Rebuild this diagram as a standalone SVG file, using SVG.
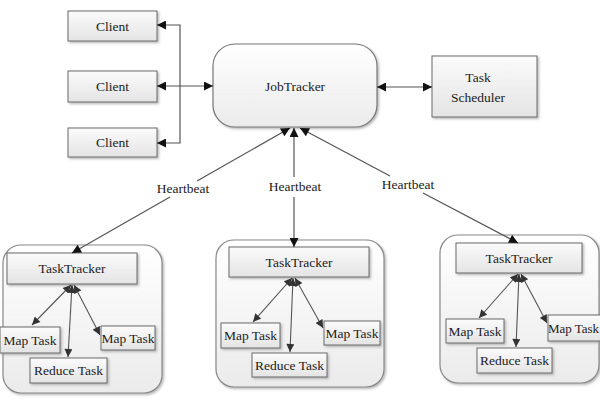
<svg xmlns="http://www.w3.org/2000/svg" width="600" height="400" viewBox="0 0 600 400">
<style>
text{font-family:"Liberation Serif","Times New Roman",serif;font-size:13.5px;fill:#222;text-anchor:middle}
.box{fill:url(#gBox);stroke:#6a6a6a;stroke-width:1;filter:url(#sh)}
.grp{fill:url(#gGrp);stroke:#8a8a8a;stroke-width:1.2;filter:url(#sh)}
.jt{fill:url(#gGrp);stroke:#777;stroke-width:1.2;filter:url(#sh)}
.c{fill:none;stroke:#555;stroke-width:1.2;marker-start:url(#ah);marker-end:url(#ah)}
.ci{fill:none;stroke:#555;stroke-width:1.1;marker-start:url(#ahs);marker-end:url(#ahs)}
</style>
<defs>
<linearGradient id="gBox" x1="0" y1="0" x2="0" y2="1"><stop offset="0" stop-color="#fbfbfb"/><stop offset="1" stop-color="#e4e4e4"/></linearGradient>
<linearGradient id="gGrp" x1="0" y1="0" x2="0" y2="1"><stop offset="0" stop-color="#ffffff"/><stop offset="1" stop-color="#ebebeb"/></linearGradient>
<filter id="sh" x="-10%" y="-10%" width="130%" height="130%"><feDropShadow dx="1.5" dy="1.5" stdDeviation="1" flood-color="#999" flood-opacity="0.7"/></filter>
<marker id="ah" viewBox="0 0 10 10" refX="10" refY="5" markerWidth="11" markerHeight="9" markerUnits="userSpaceOnUse" orient="auto-start-reverse"><path d="M0,0 L10,5 L0,10 z" fill="#111"/></marker>
<marker id="ahs" viewBox="0 0 10 10" refX="10" refY="5" markerWidth="10" markerHeight="8" markerUnits="userSpaceOnUse" orient="auto-start-reverse"><path d="M0,0 L10,5 L0,10 z" fill="#333"/></marker>
</defs>

<g id="group1"><rect class="grp" x="3" y="245" width="159" height="148" rx="18"/></g>
<g id="group2"><rect class="grp" x="216" y="240" width="168" height="147" rx="18"/></g>
<g id="group3"><rect class="grp" x="440" y="235" width="159" height="148" rx="18"/></g>

<g id="client1"><rect class="box" x="68" y="11" width="89" height="30"/><text x="112.5" y="31">Client</text></g>
<g id="client2"><rect class="box" x="68" y="71" width="89" height="31"/><text x="112.5" y="91">Client</text></g>
<g id="client3"><rect class="box" x="68" y="128" width="89" height="29"/><text x="112.5" y="147">Client</text></g>
<g id="jobtracker"><rect class="jt" x="213" y="44" width="164" height="83" rx="22"/><text x="295" y="91">JobTracker</text></g>
<g id="scheduler"><rect class="box" x="432" y="56" width="105" height="61"/><text x="478" y="82">Task</text><text x="478" y="102">Scheduler</text></g>

<g id="tasktracker1"><rect class="box" x="7" y="253" width="130" height="31"/><text x="72" y="273">TaskTracker</text></g>
<g id="map1a"><rect class="box" x="0" y="327" width="60" height="26"/><text x="30" y="345">Map Task</text></g>
<g id="map1b"><rect class="box" x="101" y="326" width="54" height="24"/><text x="128" y="343">Map Task</text></g>
<g id="reduce1"><rect class="box" x="30" y="358" width="77" height="25"/><text x="68.5" y="375">Reduce Task</text></g>

<g id="tasktracker2"><rect class="box" x="229" y="247" width="140" height="30"/><text x="299" y="267">TaskTracker</text></g>
<g id="map2a"><rect class="box" x="221" y="323" width="59" height="25"/><text x="250.5" y="340">Map Task</text></g>
<g id="map2b"><rect class="box" x="324" y="321" width="56" height="24"/><text x="352" y="338">Map Task</text></g>
<g id="reduce2"><rect class="box" x="252" y="353" width="75" height="24"/><text x="289.5" y="370">Reduce Task</text></g>

<g id="tasktracker3"><rect class="box" x="456" y="243" width="126" height="30"/><text x="519" y="263">TaskTracker</text></g>
<g id="map3a"><rect class="box" x="446" y="319" width="58" height="24"/><text x="475" y="336">Map Task</text></g>
<g id="map3b"><rect class="box" x="548" y="315" width="54" height="26"/><text x="573.5" y="333" style="font-size:13px">Map Task</text></g>
<g id="reduce3"><rect class="box" x="477" y="348" width="75" height="25"/><text x="514.5" y="365">Reduce Task</text></g>

<g id="connectors">
<path class="c" d="M157,25 H180 V143 H157"/>
<path class="c" d="M157,86 H213"/>
<path class="c" d="M377,87 H432"/>
<path class="c" d="M290,128 L197,181 M170,197 L72,253"/>
<path class="c" d="M294,128 V177 M294,197 V247"/>
<path class="c" d="M300,128 L390,176 M423,193 L518,243"/>
<text x="183" y="193">Heartbeat</text>
<text x="295" y="191">Heartbeat</text>
<text x="408" y="189">Heartbeat</text>
<path class="ci" d="M71,285 L32,325"/>
<path class="ci" d="M72,285 L68,357"/>
<path class="ci" d="M74,285 L100,335"/>
<path class="ci" d="M292,278 L253,322"/>
<path class="ci" d="M293,278 L290,352"/>
<path class="ci" d="M295,278 L323,328"/>
<path class="ci" d="M518,274 L479,318"/>
<path class="ci" d="M519,274 L516,347"/>
<path class="ci" d="M521,274 L547,323"/>
</g>
</svg>
